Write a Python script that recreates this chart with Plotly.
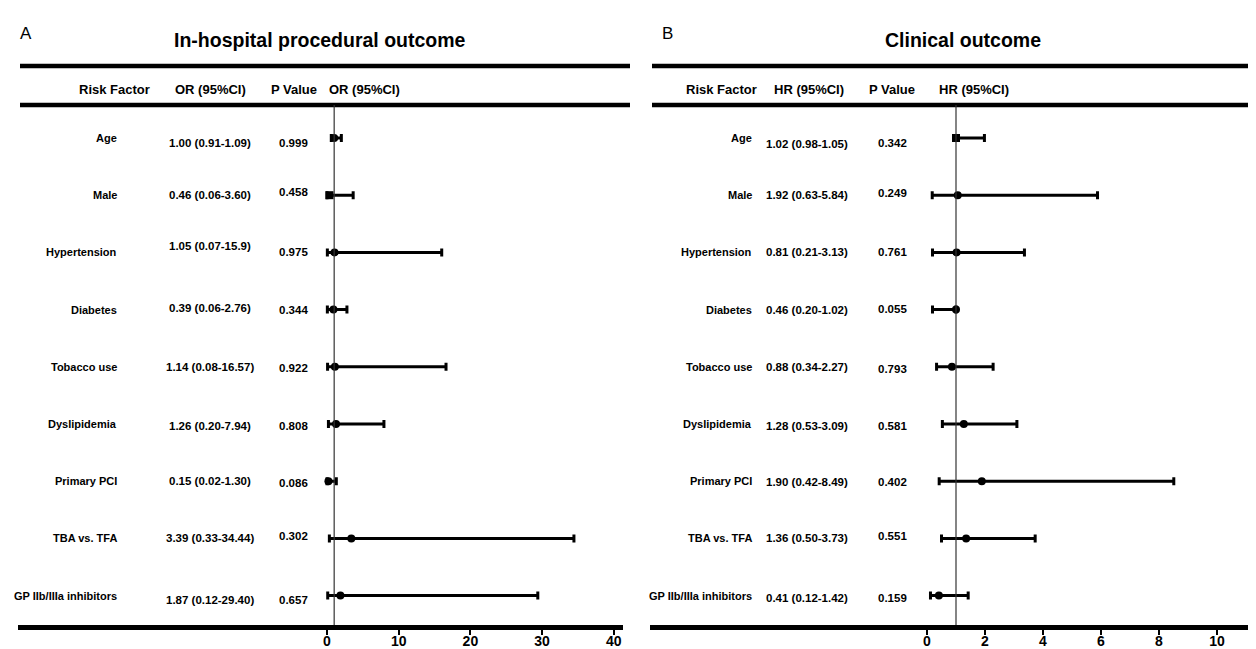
import plotly.graph_objects as go

W, H = 1256, 649

# ---------------- data ----------------
factors = ["Age", "Male", "Hypertension", "Diabetes", "Tobacco use",
           "Dyslipidemia", "Primary PCI", "TBA vs. TFA", "GP IIb/IIIa inhibitors"]

# Panel A: in-hospital procedural outcome (OR)
or_text = ["1.00 (0.91-1.09)", "0.46 (0.06-3.60)", "1.05 (0.07-15.9)", "0.39 (0.06-2.76)",
           "1.14 (0.08-16.57)", "1.26 (0.20-7.94)", "0.15 (0.02-1.30)", "3.39 (0.33-34.44)",
           "1.87 (0.12-29.40)"]
or_p = ["0.999", "0.458", "0.975", "0.344", "0.922", "0.808", "0.086", "0.302", "0.657"]
# values as drawn in the plot
or_est = [1.0, 0.35, 1.05, 0.9, 1.1, 1.26, 0.2, 3.39, 1.87]
or_low = [0.6, 0.0, 0.05, 0.05, 0.08, 0.2, 0.0, 0.33, 0.1]
or_high = [2.0, 3.65, 16.0, 2.78, 16.6, 7.94, 1.3, 34.44, 29.4]
or_ticks = [0, 10, 20, 30, 40]

# Panel B: clinical outcome (HR)
hr_text = ["1.02 (0.98-1.05)", "1.92 (0.63-5.84)", "0.81 (0.21-3.13)", "0.46 (0.20-1.02)",
           "0.88 (0.34-2.27)", "1.28 (0.53-3.09)", "1.90 (0.42-8.49)", "1.36 (0.50-3.73)",
           "0.41 (0.12-1.42)"]
hr_p = ["0.342", "0.249", "0.761", "0.055", "0.793", "0.581", "0.402", "0.551", "0.159"]
hr_est = [1.0, 1.06, 1.02, 1.0, 0.86, 1.27, 1.89, 1.35, 0.41]
hr_low = [0.98, 0.18, 0.19, 0.19, 0.33, 0.53, 0.42, 0.50, 0.12]
hr_high = [1.98, 5.88, 3.36, 1.0, 2.28, 3.10, 8.51, 3.73, 1.42]
hr_ticks = [0, 2, 4, 6, 8, 10]

# ---------------- layout helpers ----------------
FONT = "Liberation Sans, Arial, Helvetica, sans-serif"
ROW0, ROWSTEP = 130.0, 57.2
Y_BOTTOM = 617.0


def px(x):
    return x / W


def py(y):
    return 1 - y / H


rows = list(range(len(factors)))

fig = go.Figure()


def add_panel(est, low, high, xaxis, symbols):
    fig.add_trace(go.Scatter(
        x=est, y=rows, mode="markers", xaxis=xaxis, yaxis="y",
        marker=dict(color="black", size=8, symbol=symbols),
        error_x=dict(type="data", symmetric=False,
                     array=[h - e for h, e in zip(high, est)],
                     arrayminus=[e - l for e, l in zip(est, low)],
                     color="black", thickness=3, width=4),
        hoverinfo="skip", showlegend=False))


sym_a = ["circle"] * 9
sym_a[1] = "square"
sym_b = ["circle"] * 9
sym_b[0] = "square"
add_panel(or_est, or_low, or_high, "x", sym_a)
add_panel(hr_est, hr_low, hr_high, "x2", sym_b)

# axis pixel mapping
a_x0, a_x1 = 10, 615
a_zero, a_scale = 319.0, 7.17
b_x0, b_x1 = 642, 1256
b_zero, b_scale = 919.0, 29.0

axis_common = dict(showgrid=False, zeroline=False, showline=True, linewidth=4.5,
                   linecolor="black", ticks="outside", ticklen=5, tickwidth=1.5,
                   tickcolor="black", anchor="y", automargin=False,
                   ticklabelstandoff=-6,
                   tickfont=dict(family=FONT, size=14, color="black"))

fig.update_layout(
    width=W, height=H,
    margin=dict(l=0, r=0, t=0, b=0),
    paper_bgcolor="white", plot_bgcolor="white",
    showlegend=False,
    xaxis=dict(domain=[px(a_x0), px(a_x1)],
               range=[(a_x0 - a_zero) / a_scale, (a_x1 - a_zero) / a_scale],
               tickvals=or_ticks, ticktext=[f"<b>{t}</b>" for t in or_ticks],
               **axis_common),
    xaxis2=dict(domain=[px(b_x0), 1.0],
                range=[(b_x0 - b_zero) / b_scale, (b_x1 - b_zero) / b_scale],
                tickvals=hr_ticks, ticktext=[f"<b>{t}</b>" for t in hr_ticks],
                **axis_common),
    yaxis=dict(domain=[py(Y_BOTTOM), 1.0],
               range=[(Y_BOTTOM - ROW0) / ROWSTEP, -ROW0 / ROWSTEP],
               visible=False, showgrid=False, zeroline=False),
)

shapes = []
# thick horizontal rules
for (x0, x1) in [(12, 622), (644, 1256)]:
    for yy in (58, 97):
        shapes.append(dict(type="line", xref="paper", yref="paper",
                           x0=px(x0), x1=px(x1), y0=py(yy), y1=py(yy),
                           line=dict(color="black", width=4.5)))
# reference lines at 1
for xr in ("x", "x2"):
    shapes.append(dict(type="line", xref=xr, yref="paper", x0=1, x1=1,
                       y0=py(Y_BOTTOM), y1=py(97),
                       line=dict(color="#333333", width=1.2)))
fig.update_layout(shapes=shapes)

ann = []


def txt(x, y, s, size=11.5, anchor="center", yref="paper", yshift=0, bold=True):
    ann.append(dict(x=x, y=y, xref="paper", yref=yref, text=(f"<b>{s}</b>" if bold else s),
                    showarrow=False, xanchor=anchor, yanchor="middle", yshift=yshift,
                    font=dict(family=FONT, size=size, color="black")))


# panel letters and titles
txt(px(18), py(25), "A", size=17, bold=False)
txt(px(659), py(25), "B", size=17, bold=False)
txt(px(312), py(32), "In-hospital procedural outcome", size=19.5)
txt(px(955), py(32), "Clinical outcome", size=19.5)

# headers
for xx, s in [(106, "Risk Factor"), (202, "OR (95%CI)"), (286, "P Value"), (356, "OR (95%CI)"),
              (713, "Risk Factor"), (801, "HR (95%CI)"), (884, "P Value"), (966, "HR (95%CI)")]:
    txt(px(xx), py(82), s, size=13)

# small vertical offsets of text (pixels, positive = down)
a_val_off = [5, 0, -6, -2, 0, 2, 0, 0, 4]
a_p_off = [5, -3, 0, 0, 1, 2, 2, -2, 4]
b_val_off = [6, 0, 0, 0, 0, 2, 1, 0, 2]
b_p_off = [5, -2, 0, -1, 2, 2, 1, -2, 2]

for i in rows:
    txt(px(111), i, factors[i], size=11, anchor="right", yref="y")
    txt(px(202), i, or_text[i], yref="y", yshift=-a_val_off[i])
    txt(px(285), i, or_p[i], yref="y", yshift=-a_p_off[i])
    txt(px(746), i, factors[i], size=11, anchor="right", yref="y")
    txt(px(799), i, hr_text[i], yref="y", yshift=-b_val_off[i])
    txt(px(884), i, hr_p[i], yref="y", yshift=-b_p_off[i])

fig.update_layout(annotations=ann)

fig.write_html("out.html")
